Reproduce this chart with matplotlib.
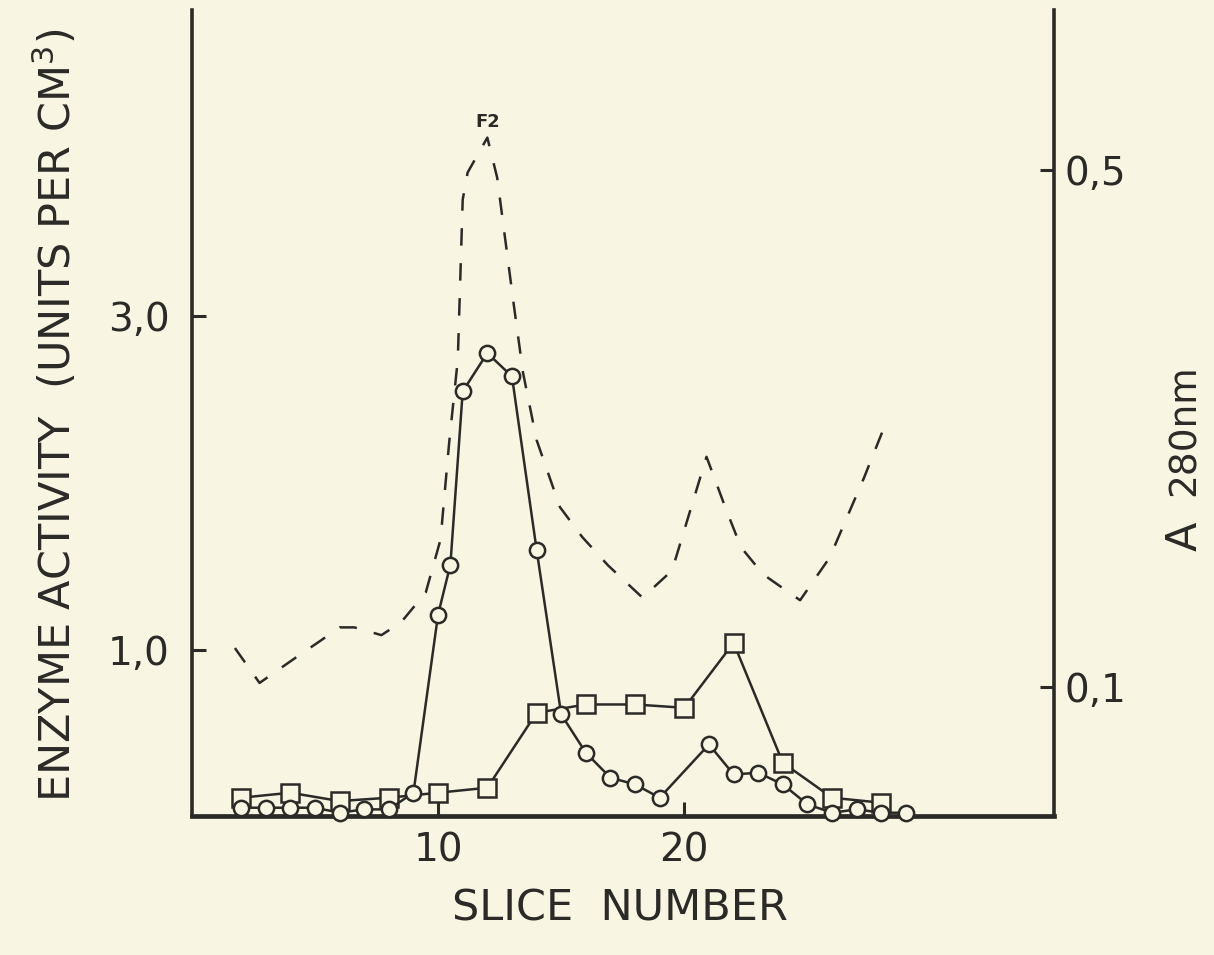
import matplotlib.pyplot as plt

BG = "#f8f6e3"
INK = "#2b2a27"

# enzyme activity, open circles (left axis, units per cm3)
circle_slice = [2, 3, 4, 5, 6, 7, 8, 9, 10, 10.5, 11, 12, 13, 14, 15, 16, 17, 18, 19,
                21, 22, 23, 24, 25, 26, 27, 28, 29]
circle_value = [0.05, 0.05, 0.05, 0.05, 0.02, 0.04, 0.04, 0.14, 1.21, 1.51, 2.55, 2.78, 2.64,
                1.60, 0.61, 0.38, 0.23, 0.19, 0.11, 0.43, 0.25, 0.26, 0.19, 0.07, 0.02,
                0.04, 0.02, 0.02]

# enzyme activity, open squares (left axis)
square_slice = [2, 4, 6, 8, 10, 12, 14, 16, 18, 20, 22, 24, 26, 28]
square_value = [0.11, 0.14, 0.09, 0.11, 0.14, 0.17, 0.62, 0.67, 0.67, 0.65, 1.04, 0.32, 0.11, 0.08]

# absorbance at 280 nm, dashed (right axis)
a280_slice = [1.75, 2.75, 4.25, 5.25, 6.0, 6.6, 7.7, 8.5, 9.5, 10.1, 10.45, 10.8, 11.0, 11.2,
              12.0, 12.4, 13.05, 13.45, 14.0, 14.95, 15.85, 16.9, 18.3, 19.5, 20.9, 21.7,
              22.3, 23.2, 24.7, 25.9, 27.3, 28.2]
a280_value = [0.130, 0.103, 0.123, 0.136, 0.146, 0.146, 0.140, 0.150, 0.173, 0.214, 0.289,
              0.353, 0.477, 0.498, 0.525, 0.494, 0.399, 0.343, 0.291, 0.239, 0.216, 0.194,
              0.169, 0.190, 0.278, 0.237, 0.208, 0.187, 0.167, 0.200, 0.262, 0.305]

x_ticks = [10, 20]
left_ticks = [1.0, 3.0]
left_labels = ["1,0", "3,0"]
right_ticks = [0.1, 0.5]
right_labels = ["0,1", "0,5"]

plt.rcParams["font.family"] = ["DejaVu Sans"]

fig = plt.figure(figsize=(12.14, 9.55), dpi=100, facecolor=BG)
ax = fig.add_axes([0.158, 0.1455, 0.710, 0.844])
ax.set_facecolor(BG)

left_max = 4.84
ax.set_xlim(0, 35)
ax.set_ylim(0, left_max)

ax.plot(square_slice, square_value, color=INK, lw=1.8, marker="s", ms=13,
        mfc=BG, mec=INK, mew=1.8, clip_on=False, zorder=3)
ax.plot(circle_slice, circle_value, color=INK, lw=1.8, marker="o", ms=11,
        mfc=BG, mec=INK, mew=1.8, clip_on=False, zorder=4)

ax.set_xticks(x_ticks)
ax.set_xticklabels([str(t) for t in x_ticks])
ax.set_yticks(left_ticks)
ax.set_yticklabels(left_labels)
ax.tick_params(axis="both", direction="in", length=10, width=2.2, colors=INK,
               labelsize=28)
ax.tick_params(axis="x", pad=11)
ax.tick_params(axis="y", pad=16)

for side in ["top", "right"]:
    ax.spines[side].set_visible(False)
ax.spines["left"].set_linewidth(2.6)
ax.spines["bottom"].set_linewidth(3.4)
ax.spines["left"].set_color(INK)
ax.spines["bottom"].set_color(INK)

ax2 = ax.twinx()
ax2.set_ylim(0, left_max * 166.5 / 1292.0)
ax2.plot(a280_slice, a280_value, color=INK, lw=1.8, dashes=(7, 7))
ax2.set_yticks(right_ticks)
ax2.set_yticklabels(right_labels)
ax2.tick_params(axis="y", direction="in", length=10, width=2.2, colors=INK,
                labelsize=28, pad=8)
for side in ["top", "left", "bottom"]:
    ax2.spines[side].set_visible(False)
ax2.spines["right"].set_linewidth(2.6)
ax2.spines["right"].set_color(INK)

ax2.text(12.0, 0.530, "F2", ha="center", va="bottom", fontsize=13,
         fontweight="bold", color=INK)

fig.text(0.046, 0.565, "ENZYME ACTIVITY  (UNITS PER CM$^3$)", rotation=90,
         ha="center", va="center", fontsize=31, color=INK)
fig.text(0.511, 0.049, "SLICE  NUMBER", ha="center", va="center", fontsize=31,
         color=INK)
fig.text(0.976, 0.438, "A", rotation=90, ha="center", va="center", fontsize=31,
         color=INK)
fig.text(0.976, 0.55, "280nm", rotation=90, ha="center", va="center", fontsize=27,
         color=INK)

fig.savefig("out.png", dpi=100, facecolor=BG)
